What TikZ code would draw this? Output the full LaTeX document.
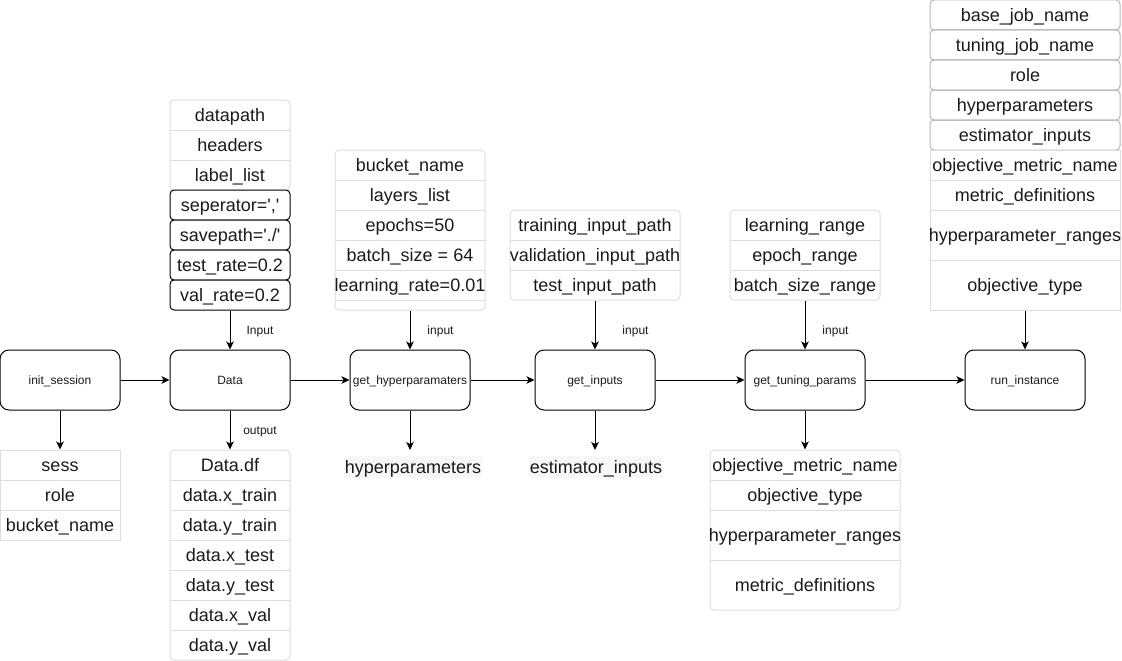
\documentclass[tikz,border=0pt]{standalone}
\usepackage{fontspec}
\setmainfont{Liberation Sans}
\usetikzlibrary{arrows.meta}
\definecolor{lgray}{HTML}{DDDDDD}
\definecolor{mgray}{HTML}{B5B5B5}
\definecolor{txtbg}{HTML}{F6F7F9}
\definecolor{txt}{HTML}{1A1A1A}
\tikzset{
  proc/.style={draw, line width=1pt, rounded corners=9pt, minimum width=120pt, minimum height=60pt, inner sep=0pt, font=\fontsize{12}{14}\selectfont, text=txt, text height=10.86pt, text depth=2.54pt},
  row/.style={inner sep=0pt, minimum height=30pt, font=\fontsize{18}{20}\selectfont, text=txt, text height=16.3pt, text depth=3.8pt},
  frame/.style={draw=lgray, line width=1pt, inner sep=0pt},
  rframe/.style={frame, rounded corners=4pt},
  sepline/.style={draw=lgray, line width=1pt},
  blkbox/.style={row, draw=black, line width=1pt, rounded corners=4pt, minimum width=120pt},
  gbox/.style={row, draw=mgray, line width=1pt, rounded corners=4pt, minimum width=190pt},
  arr/.style={line width=1pt, -{Stealth[length=8pt,width=7.5pt,inset=2pt]}},
  lbl/.style={font=\fontsize{12}{14}\selectfont, text=txt, inner sep=0pt, text height=10.86pt, text depth=2.54pt},
  plaintxt/.style={row, fill=txtbg, minimum height=0pt, inner xsep=1pt, inner ysep=0.5pt}
}
\begin{document}
\begin{tikzpicture}[x=1pt,y=-1pt]
\useasboundingbox (0,0) rectangle (1122,661);

% process nodes
\node[proc] (init) at (60,380) {init\_session};
\node[proc] (data) at (230,380) {Data};
\node[proc] (gh) at (410,380) {get\_hyperparamaters};
\node[proc] (gi) at (595,380) {get\_inputs};
\node[proc] (gt) at (805,380) {get\_tuning\_params};
\node[proc] (ri) at (1025,380) {run\_instance};

% Data input list
\node[rframe, minimum width=120pt, minimum height=90pt] (dinF) at (230,145) {};
\node[row] (d1) at (230,115) {datapath};
\node[row] (d2) at (230,145) {headers};
\node[row] (d3) at (230,175) {label\_list};
\draw[sepline] (d1.south -| dinF.west) -- (d1.south -| dinF.east);
\draw[sepline] (d2.south -| dinF.west) -- (d2.south -| dinF.east);
\node[blkbox, fill=white] (d4) at (230,205) {seperator=\textquotesingle,\textquotesingle};
\node[blkbox, fill=white] (d5) at (230,235) {savepath=\textquotesingle./\textquotesingle};
\node[blkbox, fill=white] (d6) at (230,265) {test\_rate=0.2};
\node[blkbox, fill=white] (d7) at (230,295) {val\_rate=0.2};

% hyperparameter list
\node[rframe, minimum width=150pt, minimum height=160pt] (hpF) at (410,230) {};
\node[row] (h1) at (410,165) {bucket\_name};
\node[row] (h2) at (410,195) {layers\_list};
\node[row] (h3) at (410,225) {epochs=50};
\node[row] (h4) at (410,255) {batch\_size = 64};
\node[row] (h5) at (410,285) {learning\_rate=0.01};
\foreach \r in {h1,h2,h3,h4,h5}{\draw[sepline] (\r.south -| hpF.west) -- (\r.south -| hpF.east);}

% inputs list
\node[rframe, minimum width=170pt, minimum height=90pt] (ipF) at (595,255) {};
\node[row] (i1) at (595,225) {training\_input\_path};
\node[row] (i2) at (595,255) {validation\_input\_path};
\node[row] (i3) at (595,285) {test\_input\_path};
\foreach \r in {i1,i2}{\draw[sepline] (\r.south -| ipF.west) -- (\r.south -| ipF.east);}

% tuning list
\node[rframe, minimum width=150pt, minimum height=90pt] (tpF) at (805,255) {};
\node[row] (t1) at (805,225) {learning\_range};
\node[row] (t2) at (805,255) {epoch\_range};
\node[row] (t3) at (805,285) {batch\_size\_range};
\foreach \r in {t1,t2}{\draw[sepline] (\r.south -| tpF.west) -- (\r.south -| tpF.east);}

% run_instance inputs
\node[gbox] (r1) at (1025,15) {base\_job\_name};
\node[gbox] (r2) at (1025,45) {tuning\_job\_name};
\node[gbox] (r3) at (1025,75) {role};
\node[gbox] (r4) at (1025,105) {hyperparameters};
\node[gbox] (r5) at (1025,135) {estimator\_inputs};
\node[frame, minimum width=190pt, minimum height=160pt] (rF) at (1025,230) {};
\node[row] (r6) at (1025,165) {objective\_metric\_name};
\node[row] (r7) at (1025,195) {metric\_definitions};
\node[row, minimum height=50pt] (r8) at (1025,235) {hyperparameter\_ranges};
\node[row, minimum height=50pt] (r9) at (1025,285) {objective\_type};
\foreach \r in {r6,r7,r8}{\draw[sepline] (\r.south -| rF.west) -- (\r.south -| rF.east);}

% init_session output
\node[frame, minimum width=120pt, minimum height=90pt] (sF) at (60,495) {};
\node[row] (s1) at (60,465) {sess};
\node[row] (s2) at (60,495) {role};
\node[row] (s3) at (60,525) {bucket\_name};
\foreach \r in {s1,s2}{\draw[sepline] (\r.south -| sF.west) -- (\r.south -| sF.east);}

% Data output
\node[rframe, minimum width=120pt, minimum height=210pt] (doF) at (230,555) {};
\node[row] (o1) at (230,465) {Data.df};
\node[row] (o2) at (230,495) {data.x\_train};
\node[row] (o3) at (230,525) {data.y\_train};
\node[row] (o4) at (230,555) {data.x\_test};
\node[row] (o5) at (230,585) {data.y\_test};
\node[row] (o6) at (230,615) {data.x\_val};
\node[row] (o7) at (230,645) {data.y\_val};
\foreach \r in {o1,o2,o3,o4,o5,o6}{\draw[sepline] (\r.south -| doF.west) -- (\r.south -| doF.east);}

% plain text outputs
\node[plaintxt] (hpT) at (413,467) {hyperparameters};
\node[plaintxt] (eiT) at (596,467) {estimator\_inputs};
\coordinate (hpA) at (410,450);
\coordinate (eiA) at (595,450);

% tuning output
\node[rframe, minimum width=190pt, minimum height=160pt] (toF) at (805,530) {};
\node[row] (u1) at (805,465) {objective\_metric\_name};
\node[row] (u2) at (805,495) {objective\_type};
\node[row, minimum height=50pt] (u3) at (805,535) {hyperparameter\_ranges};
\node[row, minimum height=50pt] (u4) at (805,585) {metric\_definitions};
\foreach \r in {u1,u2,u3}{\draw[sepline] (\r.south -| toF.west) -- (\r.south -| toF.east);}

% horizontal flow
\draw[arr] (init) -- (data);
\draw[arr] (data) -- (gh);
\draw[arr] (gh) -- (gi);
\draw[arr] (gi) -- (gt);
\draw[arr] (gt) -- (ri);

% inputs
\draw[arr] (d7.south) -- (data.north);
\draw[arr] (hpF.south) -- (gh.north);
\draw[arr] (ipF.south) -- (gi.north);
\draw[arr] (tpF.south) -- (gt.north);
\draw[arr] (rF.south) -- (ri.north);

% outputs
\draw[arr] (init.south) -- (sF.north);
\draw[arr] (data.south) -- (doF.north);
\draw[arr] (gh.south) -- (hpA);
\draw[arr] (gi.south) -- (eiA);
\draw[arr] (gt.south) -- (toF.north);

% labels
\node[lbl] (lin1) at (260,330.5) {Input};
\node[lbl] (lin2) at (440.5,330.5) {input};
\node[lbl] (lin3) at (635.5,330.5) {input};
\node[lbl] (lin4) at (835.5,330.5) {input};
\node[lbl] (lout) at (260,430.5) {output};
\end{tikzpicture}
\end{document}
